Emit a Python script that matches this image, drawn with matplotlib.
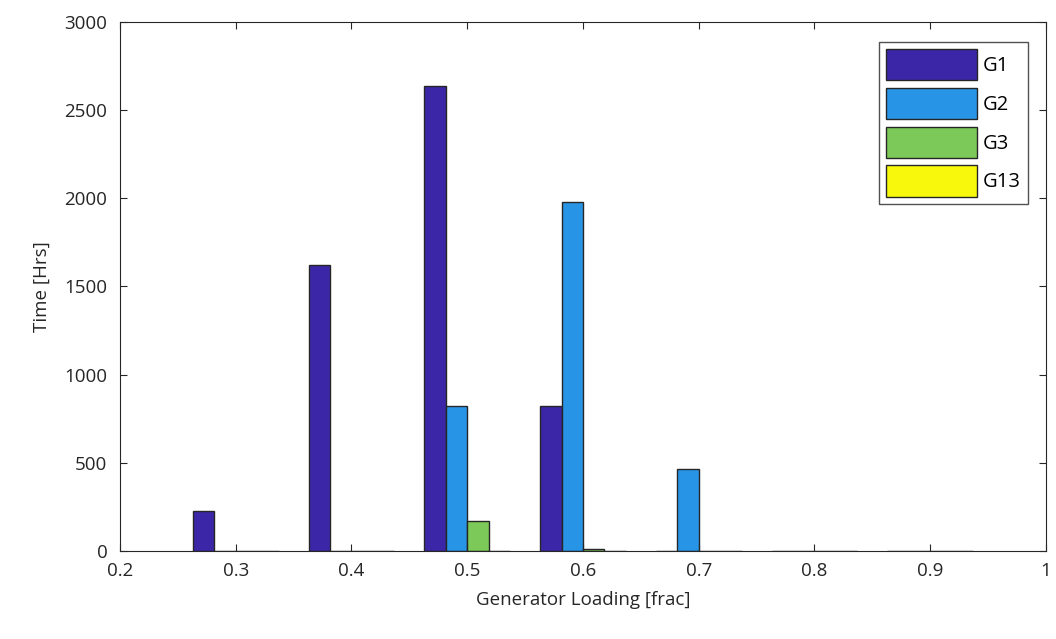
import matplotlib.pyplot as plt
import numpy as np

plt.rcParams['font.family'] = ['Open Sans', 'DejaVu Sans']

loading = [0.3, 0.4, 0.5, 0.6, 0.7, 0.8, 0.9]
g1 = [227, 1622, 2635, 822, 0, 0, 0]
g2 = [0, 0, 822, 1978, 465, 0, 0]
g3 = [0, 0, 168, 10, 0, 0, 0]
g13 = [0, 0, 0, 0, 0, 0, 0]
names = ['G1', 'G2', 'G3', 'G13']
colors = ['#3b26a8', '#2894e6', '#7cc858', '#f8f80c']

fig = plt.figure(figsize=(10.56, 6.39), dpi=100)
ax = fig.add_axes([0.1136, 0.1377, 0.8769, 0.8279])

w = 0.0185
x = np.array(loading)
for i, vals in enumerate([g1, g2, g3, g13]):
    ax.bar(x + (i - 1.5) * w, vals, width=w, color=colors[i],
           edgecolor='#262626', linewidth=1.0, label=names[i])

ax.set_xlim(0.2, 1.0)
ax.set_ylim(0, 3000)
ax.set_xticks([0.2, 0.3, 0.4, 0.5, 0.6, 0.7, 0.8, 0.9, 1.0])
ax.set_xticklabels(['0.2', '0.3', '0.4', '0.5', '0.6', '0.7', '0.8', '0.9', '1'])
ax.set_yticks(range(0, 3001, 500))
ax.tick_params(direction='in', top=True, right=True, labelsize=13.5,
               colors='#262626', length=5)
ax.tick_params(axis='x', pad=8)
ax.tick_params(axis='y', pad=9)
for s in ax.spines.values():
    s.set_color('#262626')
ax.set_xlabel('Generator Loading [frac]', fontsize=13.5, color='#262626', labelpad=8)
ax.set_ylabel('Time [Hrs]', fontsize=13.5, color='#262626', labelpad=10)

leg = ax.legend(loc='upper right', bbox_to_anchor=(0.9806, 0.962), fontsize=14.5,
                fancybox=False, edgecolor='#262626', handlelength=4.5,
                handleheight=2.0, borderaxespad=0, handletextpad=0.3,
                labelspacing=0.38, borderpad=0.35)
leg.get_frame().set_linewidth(1.0)

fig.savefig('out.png', dpi=100)
